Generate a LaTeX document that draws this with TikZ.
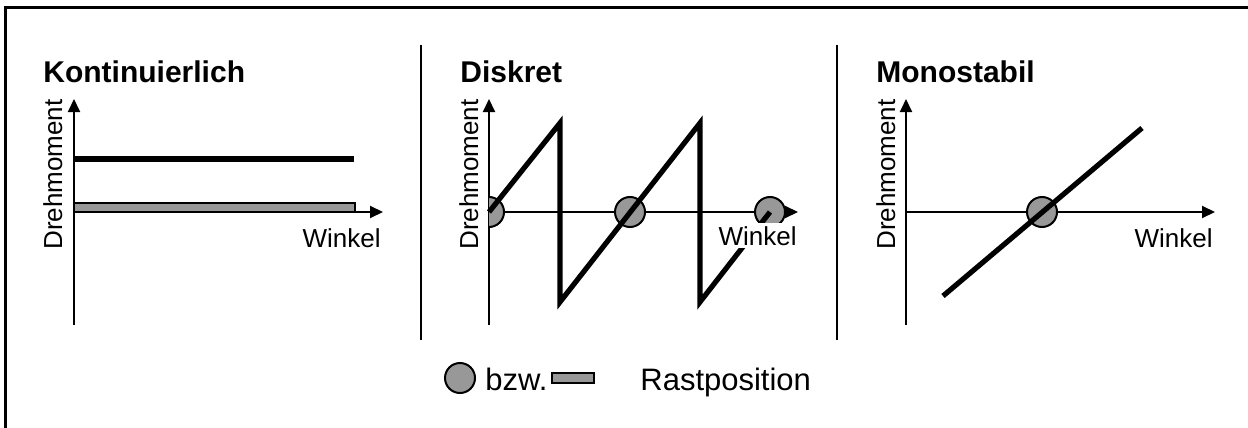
\documentclass[tikz,border=0pt]{standalone}
\usepackage{fontspec}
\setmainfont{Liberation Sans}
\usetikzlibrary{arrows.meta}
\definecolor{rastgrau}{RGB}{152,152,152}
\tikzset{%
axis/.style={line width=1pt,-{Triangle[length=6.5pt,width=6pt]}},
kennlinie/.style={line width=2.6pt},
rastpunkt/.style={draw,circle,fill=rastgrau,line width=1pt,minimum size=15pt,inner sep=0pt},
rastbalken/.style={draw,fill=rastgrau,line width=1pt},
trenner/.style={line width=1.2pt},
titel/.style={font=\bfseries\fontsize{15}{18}\selectfont,inner sep=0pt,anchor=base west},
achslabel/.style={font=\fontsize{13}{15}\selectfont,inner sep=1.5pt},
legende/.style={font=\fontsize{15.5}{18}\selectfont,inner sep=0pt,anchor=base west}
}
\begin{document}
\begin{tikzpicture}[x=0.5pt,y=-0.5pt]
  \useasboundingbox (0,0) rectangle (1248,428);
  \draw[line width=1.5pt] (1248,7) -- (5,7) -- (5,428);

  % Trennlinien
  \coordinate (t1o) at (421,45);  \coordinate (t1u) at (421,340);
  \coordinate (t2o) at (837,45);  \coordinate (t2u) at (837,340);
  \draw[trenner] (t1o) -- (t1u);
  \draw[trenner] (t2o) -- (t2u);

  % Titel
  \node[titel] (kont) at (43,82) {Kontinuierlich};
  \node[titel] (disk) at (460,82) {Diskret};
  \node[titel] (mono) at (876,82) {Monostabil};

  % Kontinuierlich
  \coordinate (k1) at (74,159);   \coordinate (k2) at (354,159);
  \draw[rastbalken] (74,203) rectangle (355,212);
  \draw[kennlinie] (k1) -- (k2);

  % Achsen
  \foreach \p/\ox/\bx in {1/74/62,2/489/478,3/906/895} {
    \coordinate (o\p) at (\ox,212);
    \coordinate (u\p) at (\ox,325);
    \coordinate (y\p) at (\ox,99);
    \coordinate (x\p) at (\ox+309,212);
    \draw[axis] (u\p) -- (y\p);
    \draw[axis] (o\p) -- (x\p);
    \node[achslabel,rotate=90,anchor=base west,inner sep=0pt] (dm\p) at (\bx,250) {Drehmoment};
  }

  % Diskret
  \begin{scope}
    \clip (489,190) rectangle (512,235);
    \node[rastpunkt] (r2o) at (o2) {};
  \end{scope}
  \node[rastpunkt] (r2a) at (630,212) {};
  \node[rastpunkt] (r2b) at (770,212) {};
  \coordinate (s1) at (560,123);  \coordinate (s2) at (560,302);
  \coordinate (s3) at (700,123);  \coordinate (s4) at (700,302);
  \draw[kennlinie] (o2) -- (s1) -- (s2) -- (s3) -- (s4) -- (r2b.center);

  % Monostabil
  \node[rastpunkt] (r3) at (1042,212) {};
  \coordinate (m1) at (943,296);  \coordinate (m2) at (1142,128);
  \draw[kennlinie] (m1) -- (m2);

  % Winkel
  \node[achslabel,anchor=base east] (w1) at (384,247) {Winkel};
  \node[achslabel,anchor=base east,fill=white] (w2) at (800,245) {Winkel};
  \node[achslabel,anchor=base east] (w3) at (1216,247) {Winkel};

  % Legende
  \node[rastpunkt] (leg) at (460,378) {};
  \node[legende] (bzw) at (485,390) {bzw.};
  \draw[rastbalken] (552,373) rectangle (594,383);
  \node[legende] (rast) at (640,390) {Rastposition};
\end{tikzpicture}
\end{document}
